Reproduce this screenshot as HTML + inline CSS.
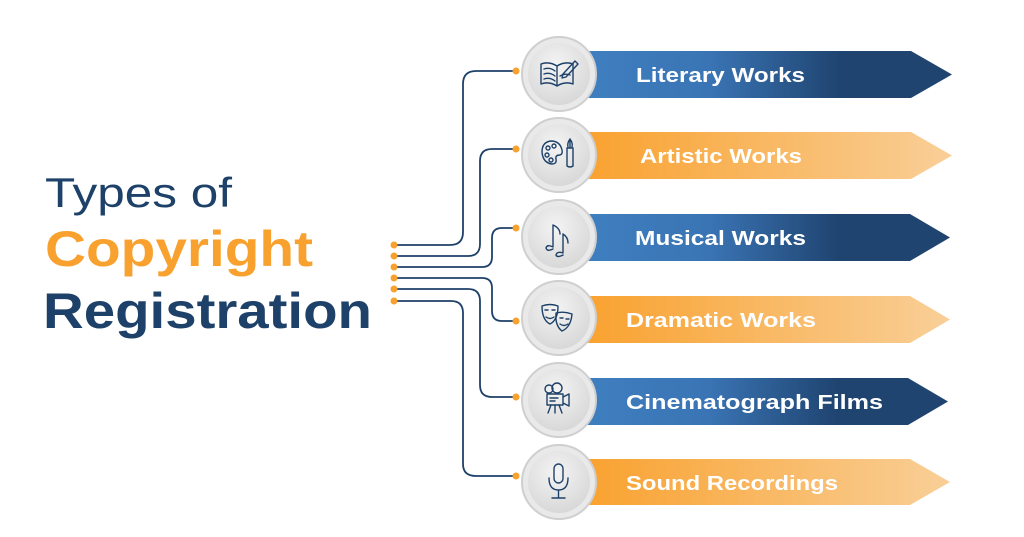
<!DOCTYPE html>
<html><head><meta charset="utf-8"><style>
html,body{margin:0;padding:0;background:#fff;}
svg{display:block;}
text{font-family:"Liberation Sans",sans-serif;font-weight:bold;}
</style></head><body>
<svg width="1024" height="537" viewBox="0 0 1024 537" xmlns="http://www.w3.org/2000/svg">
<defs>
<linearGradient id="gb" x1="0" x2="1" y1="0" y2="0">
<stop offset="0" stop-color="#3f7fc0"/><stop offset="0.35" stop-color="#3a74b4"/><stop offset="0.7" stop-color="#1f4470"/><stop offset="1" stop-color="#1f4470"/></linearGradient>
<linearGradient id="go" x1="0" x2="1" y1="0" y2="0">
<stop offset="0" stop-color="#f9a12e"/><stop offset="1" stop-color="#f9cf98"/></linearGradient>
<radialGradient id="gc" cx="0.45" cy="0.35" r="0.7">
<stop offset="0" stop-color="#f4f4f4"/><stop offset="1" stop-color="#d6d6d6"/></radialGradient>
</defs>

<text x="45" y="207" font-size="42" fill="#1e4169" style="font-weight:normal" textLength="187" lengthAdjust="spacingAndGlyphs">Types of</text>
<text x="45" y="266" font-size="50" fill="#f9a12e" textLength="268" lengthAdjust="spacingAndGlyphs">Copyright</text>
<text x="43" y="328" font-size="50" fill="#1e4169" textLength="329" lengthAdjust="spacingAndGlyphs">Registration</text>

<g fill="none" stroke="#1e4169" stroke-width="1.8">
<path d="M394 245 H450 Q463 245 463 232 V84 Q463 71 476 71 H516"/>
<path d="M394 256 H468 Q480 256 480 244 V161 Q480 149 492 149 H516"/>
<path d="M394 267 H482 Q492 267 492 257 V238 Q492 228 502 228 H516"/>
<path d="M394 278 H482 Q492 278 492 288 V311 Q492 321 502 321 H516"/>
<path d="M394 289 H468 Q480 289 480 301 V385 Q480 397 492 397 H516"/>
<path d="M394 301 H451 Q463 301 463 313 V464 Q463 476 476 476 H516"/>
</g>
<g fill="#f9a12e">
<circle cx="394" cy="245" r="3.5"/><circle cx="394" cy="256" r="3.5"/><circle cx="394" cy="267" r="3.5"/>
<circle cx="394" cy="278" r="3.5"/><circle cx="394" cy="289" r="3.5"/><circle cx="394" cy="301" r="3.5"/>
<circle cx="516" cy="71" r="3.5"/><circle cx="516" cy="149" r="3.5"/><circle cx="516" cy="228" r="3.5"/>
<circle cx="516" cy="321" r="3.5"/><circle cx="516" cy="397" r="3.5"/><circle cx="516" cy="476" r="3.5"/>
</g>

<!-- banners -->
<polygon points="580,51 911,51 952,74.5 911,98 580,98" fill="url(#gb)"/>
<polygon points="580,132 911,132 952,155.5 911,179 580,179" fill="url(#go)"/>
<polygon points="580,214 910,214 950,237.5 910,261 580,261" fill="url(#gb)"/>
<polygon points="580,296 910,296 950,319.5 910,343 580,343" fill="url(#go)"/>
<polygon points="580,378 908,378 948,401.5 908,425 580,425" fill="url(#gb)"/>
<polygon points="580,459 910,459 950,482 910,505 580,505" fill="url(#go)"/>

<g fill="#fff" font-size="20">
<text x="636" y="82" textLength="169" lengthAdjust="spacingAndGlyphs">Literary Works</text>
<text x="640" y="163" textLength="162" lengthAdjust="spacingAndGlyphs">Artistic Works</text>
<text x="635" y="245" textLength="171" lengthAdjust="spacingAndGlyphs">Musical Works</text>
<text x="626" y="327" textLength="190" lengthAdjust="spacingAndGlyphs">Dramatic Works</text>
<text x="626" y="409" textLength="257" lengthAdjust="spacingAndGlyphs">Cinematograph Films</text>
<text x="626" y="490" textLength="212" lengthAdjust="spacingAndGlyphs">Sound Recordings</text>
</g>

<!-- circles -->
<g>
<g transform="translate(559,74)"><circle r="37" fill="#e9e9e9" stroke="#cfcfcf" stroke-width="2"/><circle r="31" fill="url(#gc)"/></g>
<g transform="translate(559,155)"><circle r="37" fill="#e9e9e9" stroke="#cfcfcf" stroke-width="2"/><circle r="31" fill="url(#gc)"/></g>
<g transform="translate(559,237)"><circle r="37" fill="#e9e9e9" stroke="#cfcfcf" stroke-width="2"/><circle r="31" fill="url(#gc)"/></g>
<g transform="translate(559,318)"><circle r="37" fill="#e9e9e9" stroke="#cfcfcf" stroke-width="2"/><circle r="31" fill="url(#gc)"/></g>
<g transform="translate(559,400)"><circle r="37" fill="#e9e9e9" stroke="#cfcfcf" stroke-width="2"/><circle r="31" fill="url(#gc)"/></g>
<g transform="translate(559,482)"><circle r="37" fill="#e9e9e9" stroke="#cfcfcf" stroke-width="2"/><circle r="31" fill="url(#gc)"/></g>
</g>

<!-- icons -->
<g fill="none" stroke="#1e4169" stroke-width="1.4" stroke-linecap="round" stroke-linejoin="round">
<!-- book -->
<path d="M541 64 Q549 61 557 66 Q565 61 573 64 V84 Q565 81 557 86 Q549 81 541 84 Z M557 66 V86"/>
<path d="M544 69 Q550 67 555 71 M544 74 Q550 72 555 76 M544 79 Q550 77 555 81 M560 76 Q565 73 570 75"/>
<path d="M563 74 L575 61 L578 64 L566 77 L562 78 Z"/>
<!-- palette -->
<path d="M562 150 Q560 141 551 141 Q542 142 542 152 Q543 163 552 164 Q557 164 556 159 Q555 155 560 155 Q563 154 562 150 Z"/>
<circle cx="548" cy="148" r="2"/><circle cx="554" cy="146" r="2"/><circle cx="547" cy="155" r="2"/><circle cx="551" cy="160" r="2"/>
<path d="M570 139 V148 M567 148 H573 V166 Q570 168 567 166 Z M570 139 Q567 143 568 147 M570 139 Q573 143 572 147"/>
<!-- music -->
<path d="M553 247 V225 Q560 228 560 234 M553 247 Q547 244 546 248 Q547 252 553 249"/>
<path d="M563 253 V234 Q568 237 568 243 M563 253 Q557 251 556 255 Q557 258 563 255"/>
<!-- masks -->
<path d="M542 306 Q550 303 558 306 Q558 320 550 324 Q542 320 542 306 Z"/>
<path d="M556 313 Q564 311 572 314 Q571 327 562 331 Q555 326 556 313 Z"/>
<path d="M545 310 h3 M552 310 h3 M546 317 Q550 320 554 317 M560 318 h3 M566 319 h3 M560 324 Q564 327 568 324"/>
<!-- camera -->
<circle cx="549" cy="389" r="4"/><circle cx="557" cy="388" r="5"/>
<rect x="547" y="394" width="16" height="11"/>
<path d="M563 397 L569 394 V406 L563 403 M550 398 h8 M550 401 h5 M551 405 L548 413 M555 405 V413 M559 405 L562 413"/>
<!-- mic -->
<rect x="554" y="464" width="9" height="19" rx="4.5"/>
<path d="M549 478 Q549 490 558.5 490 Q568 490 568 478 M558.5 490 V498 M552 498 H565"/>
</g>
</svg>
</body></html>
